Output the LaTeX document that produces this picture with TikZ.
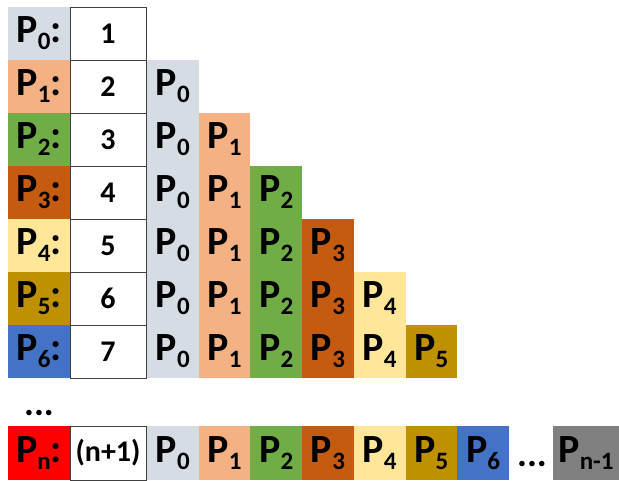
\documentclass[tikz,border=0pt]{standalone}
\usepackage{fontspec}
\setmainfont{Carlito}

\definecolor{pzero}{HTML}{D6DCE4}
\definecolor{pone}{HTML}{F4B183}
\definecolor{ptwo}{HTML}{70AD47}
\definecolor{pthree}{HTML}{C55A11}
\definecolor{pfour}{HTML}{FFE699}
\definecolor{pfive}{HTML}{BF9000}
\definecolor{psix}{HTML}{4472C4}
\definecolor{plast}{HTML}{FF0000}
\definecolor{pprev}{HTML}{808080}

\newcommand{\proc}[1]{P\raisebox{-7pt}{\fontsize{25}{25}\selectfont #1}}

\tikzset{
  cell/.style={minimum width=51.7pt, minimum height=53pt, inner sep=0pt,
    font=\bfseries\fontsize{40}{40}\selectfont},
  lab/.style={cell, minimum width=62pt},
  num/.style={cell, minimum width=76pt, draw=black!75, line width=1pt, fill=white,
    font=\bfseries\fontsize{30}{30}\selectfont},
  dots/.style={font=\bfseries\fontsize{37}{37}\selectfont, anchor=base, inner sep=0pt},
}

\begin{document}
\begin{tikzpicture}[x=1pt,y=-1pt]
  \useasboundingbox (0,0) rectangle (619,480);

  % rows P_0 ... P_6
  \foreach \r/\c/\v in {0/pzero/1,1/pone/2,2/ptwo/3,3/pthree/4,4/pfour/5,5/pfive/6,6/psix/7} {
    \node[lab, fill=\c] (l\r) at (39, 33.5+53*\r) {\proc{\r}:};
    \node[num] (n\r) at (108, 33.5+53*\r) {\v};
  }

  % staircase of received messages
  \foreach \k/\c in {0/pzero,1/pone,2/ptwo,3/pthree,4/pfour,5/pfive} {
    \pgfmathtruncatemacro\s{\k+1}
    \foreach \r in {\s,...,6}
      \node[cell, fill=\c] (s\k-\r) at (172.85+51.7*\k, 33.5+53*\r) {\proc{\k}};
  }

  \node[dots] (vdots) at (39,415) {...};

  % last row P_n
  \node[lab, fill=plast, minimum height=54pt] (ln) at (39,453) {\proc{n}:};
  \node[num, minimum height=54pt] (nn) at (108,453) {(n+1)};
  \foreach \k/\c in {0/pzero,1/pone,2/ptwo,3/pthree,4/pfour,5/pfive,6/psix}
    \node[cell, fill=\c, minimum height=54pt] (b\k) at (172.85+51.7*\k,453) {\proc{\k}};
  \node[dots] (hdots) at (532,466) {...};
  \node[cell, fill=pprev, minimum width=66pt, minimum height=54pt] (bprev) at (586,453) {\proc{n-1}};
\end{tikzpicture}
\end{document}
